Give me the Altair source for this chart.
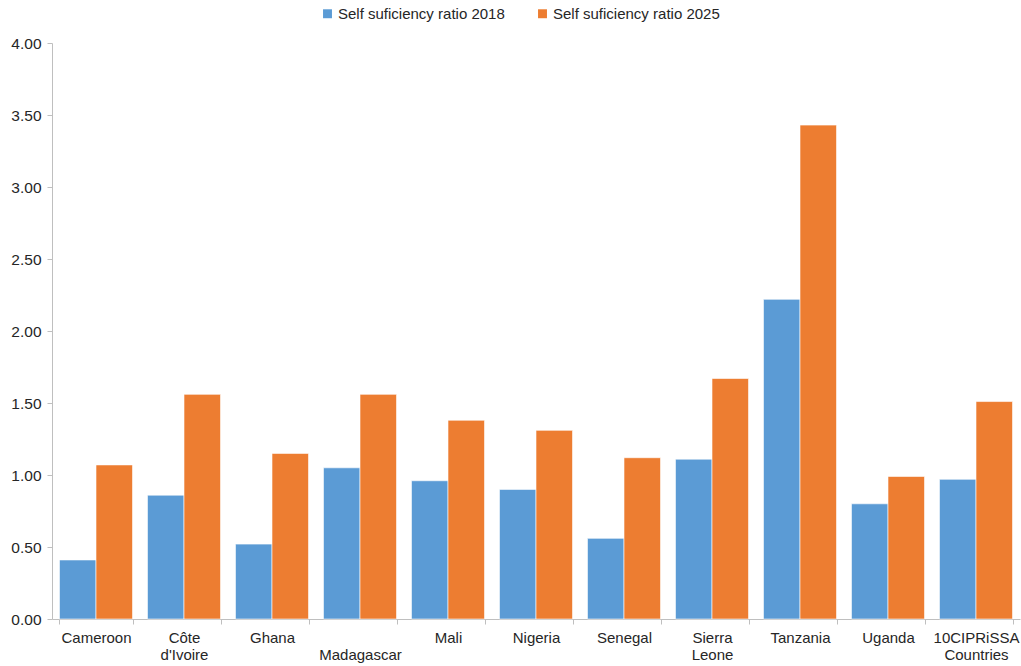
import altair as alt
import pandas as pd

# Category labels ("\n" marks a line break on the axis)
countries = [
    "Cameroon", "Côte\nd'Ivoire", "Ghana", "\nMadagascar", "Mali", "Nigeria",
    "Senegal", "Sierra\nLeone", "Tanzania", "Uganda", "10CIPRiSSA\nCountries",
]
ratio_2018 = [0.41, 0.86, 0.52, 1.05, 0.96, 0.90, 0.56, 1.11, 2.22, 0.80, 0.97]
ratio_2025 = [1.07, 1.56, 1.15, 1.56, 1.38, 1.31, 1.12, 1.67, 3.43, 0.99, 1.51]
series = ["Self suficiency ratio 2018", "Self suficiency ratio 2025"]

rows = []
for c, a, b in zip(countries, ratio_2018, ratio_2025):
    rows.append({"country": c, "series": series[0], "value": a})
    rows.append({"country": c, "series": series[1], "value": b})
df = pd.DataFrame(rows)

FONT = "Liberation Sans"
TEXT = "#262626"
AXIS = "#bfbfbf"

chart = (
    alt.Chart(df)
    .mark_bar(stroke="white", strokeWidth=0.6)
    .encode(
        x=alt.X(
            "country:N",
            sort=countries,
            title=None,
            scale=alt.Scale(paddingInner=0.17, paddingOuter=0.085),
            axis=alt.Axis(
                labelAngle=0,
                labelExpr="split(datum.label, '\\n')",
                labelFont=FONT,
                labelFontSize=15,
                labelColor=TEXT,
                labelLineHeight=17,
                labelPadding=6,
                domainColor=AXIS,
                tickColor=AXIS,
                tickSize=5,
                tickBand="extent",
                labelBaseline="top",
            ),
        ),
        xOffset=alt.XOffset("series:N", sort=series),
        y=alt.Y(
            "value:Q",
            title=None,
            scale=alt.Scale(domain=[0, 4], nice=False),
            axis=alt.Axis(
                values=[0, 0.5, 1, 1.5, 2, 2.5, 3, 3.5, 4],
                format=".2f",
                grid=False,
                labelFont=FONT,
                labelFontSize=15.5,
                labelColor=TEXT,
                labelPadding=6,
                domainColor=AXIS,
                tickColor=AXIS,
                tickSize=5,
            ),
        ),
        color=alt.Color(
            "series:N",
            sort=series,
            scale=alt.Scale(domain=series, range=["#5B9BD5", "#ED7D31"]),
            legend=alt.Legend(
                title=None,
                orient="none",
                direction="horizontal",
                legendX=268,
                legendY=-37,
                symbolType="square",
                symbolSize=80,
                symbolStrokeWidth=0,
                labelFont=FONT,
                labelFontSize=15,
                labelColor=TEXT,
                labelLimit=400,
                labelOffset=3,
                columnPadding=30,
            ),
        ),
    )
    .properties(
        width=968,
        height=576,
        background="white",
        autosize=alt.AutoSizeParams(type="none"),
        padding={"left": 52, "top": 43, "right": 1, "bottom": 47},
    )
    .configure_view(stroke=None)
)

chart.save("out.html", embed_options={"renderer": "svg", "actions": False})
